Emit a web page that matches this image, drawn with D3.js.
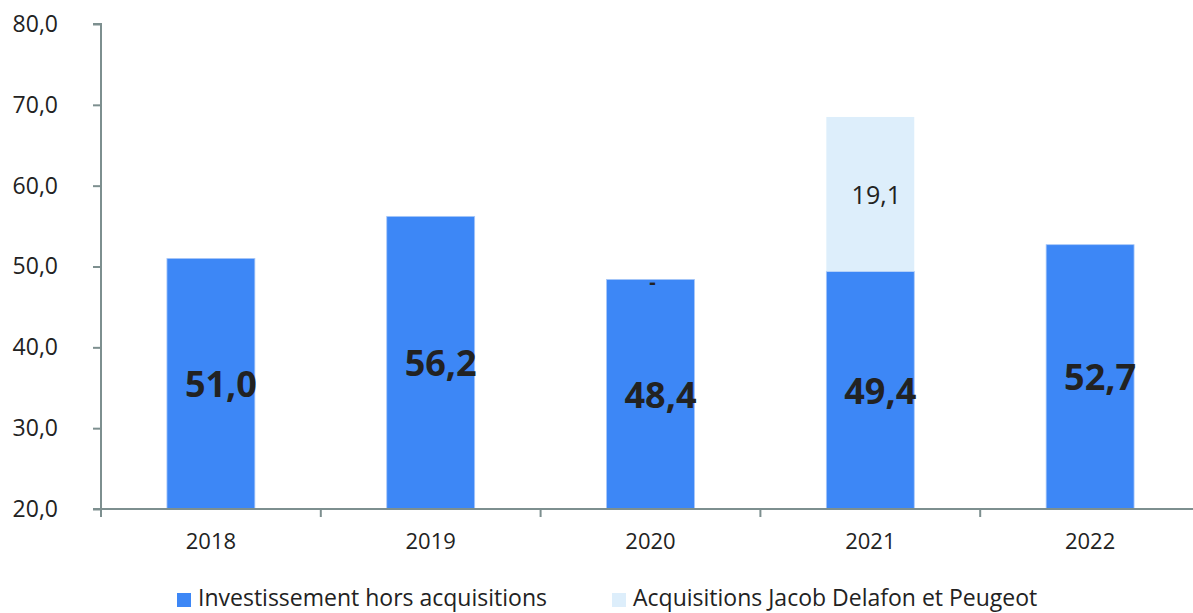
<!DOCTYPE html>
<html>
<head>
<meta charset="utf-8">
<script src="https://cdn.jsdelivr.net/npm/d3@7"></script>
<style>
  body { margin: 0; background: #fff; }
  svg { display: block; }
  svg text { font-family: "Open Sans", sans-serif; }
</style>
</head>
<body>
<div id="chart"></div>
<script>
// data
const years = ["2018", "2019", "2020", "2021", "2022"];
const investissement = [51.0, 56.2, 48.4, 49.4, 52.7];
const acquisitions = [null, null, 0, 19.1, null];
const yTicks = [20, 30, 40, 50, 60, 70, 80];
const seriesNames = ["Investissement hors acquisitions", "Acquisitions Jacob Delafon et Peugeot"];

const W = 1193, H = 613;
const margin = {top: 24, left: 101, bottom: 104};
const plotW = 1099; // 5 bands of ~220
const baseY = H - margin.bottom;

const fmt = v => v === 0 ? "-" : d3.format(".1f")(v).replace(".", ",");

const svg = d3.select("#chart").append("svg")
    .attr("width", W)
    .attr("height", H);

const x = d3.scaleBand()
    .domain(years)
    .range([margin.left, margin.left + plotW])
    .paddingInner(0.6)
    .paddingOuter(0.3);

const y = d3.scaleLinear()
    .domain([20, 80])
    .range([baseY, margin.top]);

const axisColor = "#7d8f8f";

// bars - base series
svg.append("g").selectAll("rect")
  .data(years)
  .join("rect")
    .attr("x", d => x(d))
    .attr("width", x.bandwidth())
    .attr("y", (d, i) => y(investissement[i]))
    .attr("height", (d, i) => y(20) - y(investissement[i]))
    .attr("fill", "#3d87f6")
    .attr("stroke", "#a9c8f8")
    .attr("stroke-width", 0.8);

// bars - stacked acquisitions
svg.append("g").selectAll("rect")
  .data(years.filter((d, i) => acquisitions[i]))
  .join("rect")
    .attr("x", d => x(d))
    .attr("width", x.bandwidth())
    .attr("y", d => { const i = years.indexOf(d); return y(investissement[i] + acquisitions[i]); })
    .attr("height", d => { const i = years.indexOf(d); return y(investissement[i]) - y(investissement[i] + acquisitions[i]); })
    .attr("fill", "#ddeefb");

// y axis
const yAxis = svg.append("g")
    .attr("transform", `translate(${margin.left},0)`)
    .call(d3.axisLeft(y).tickValues(yTicks).tickSize(8).tickPadding(35).tickFormat(d => fmt(d)));
yAxis.attr("font-family", null);
yAxis.select(".domain").attr("stroke", axisColor).attr("stroke-width", 2)
    .attr("d", `M-8,${margin.top}H0V${baseY + 8}`);
yAxis.selectAll(".tick line").attr("stroke", axisColor).attr("stroke-width", 2);
yAxis.selectAll(".tick text")
    .attr("fill", "#222")
    .style("font-size", "23px");

// x axis
const xAxis = svg.append("g")
    .attr("transform", `translate(0,${baseY})`)
    .call(d3.axisBottom(x).tickSize(0).tickPadding(24));
xAxis.attr("font-family", null);
xAxis.select(".domain").attr("stroke", axisColor).attr("stroke-width", 2)
    .attr("d", `M${margin.left - 8},0H${W}`);
xAxis.selectAll(".tick text")
    .attr("fill", "#222")
    .style("font-size", "22px");
// separator ticks between categories
xAxis.append("g").selectAll("line")
  .data(years.slice(1))
  .join("line")
    .attr("x1", d => x(d) - x.step() * 0.3)
    .attr("x2", d => x(d) - x.step() * 0.3)
    .attr("y1", 0)
    .attr("y2", 8)
    .attr("stroke", axisColor)
    .attr("stroke-width", 2);

// big labels inside base bars
svg.append("g").selectAll("text")
  .data(years)
  .join("text")
    .attr("x", d => x(d) + x.bandwidth() / 2 + 10)
    .attr("y", (d, i) => y((20 + investissement[i]) / 2))
    .attr("text-anchor", "middle")
    .attr("dominant-baseline", "central")
    .attr("fill", "#222")
    .style("font-size", "36px")
    .style("font-weight", "bold")
    .text((d, i) => fmt(investissement[i]));

// labels for acquisitions
svg.append("g").selectAll("text")
  .data(years.filter((d, i) => acquisitions[i] !== null))
  .join("text")
    .attr("x", d => x(d) + x.bandwidth() / 2 + (acquisitions[years.indexOf(d)] === 0 ? 2 : 6))
    .attr("y", d => { const i = years.indexOf(d); return y(investissement[i] + acquisitions[i] / 2) + (acquisitions[i] === 0 ? 2 : 0); })
    .attr("text-anchor", "middle")
    .attr("dominant-baseline", "central")
    .attr("fill", "#222")
    .style("font-size", d => acquisitions[years.indexOf(d)] === 0 ? "20px" : "25px")
    .style("font-weight", d => acquisitions[years.indexOf(d)] === 0 ? "bold" : "normal")
    .text(d => fmt(acquisitions[years.indexOf(d)]));

// legend
const legendColors = ["#3d87f6", "#ddeefb"];
const legendX = [177, 612];
const legend = svg.append("g").selectAll("g")
  .data(seriesNames)
  .join("g")
    .attr("transform", (d, i) => `translate(${legendX[i]},597)`);
legend.append("rect")
    .attr("x", 0).attr("y", -4)
    .attr("width", 14).attr("height", 14)
    .attr("fill", (d, i) => legendColors[i]);
legend.append("text")
    .attr("x", 21)
    .attr("dominant-baseline", "central")
    .attr("fill", "#222")
    .style("font-size", "23px")
    .text(d => d);
</script>
</body>
</html>
